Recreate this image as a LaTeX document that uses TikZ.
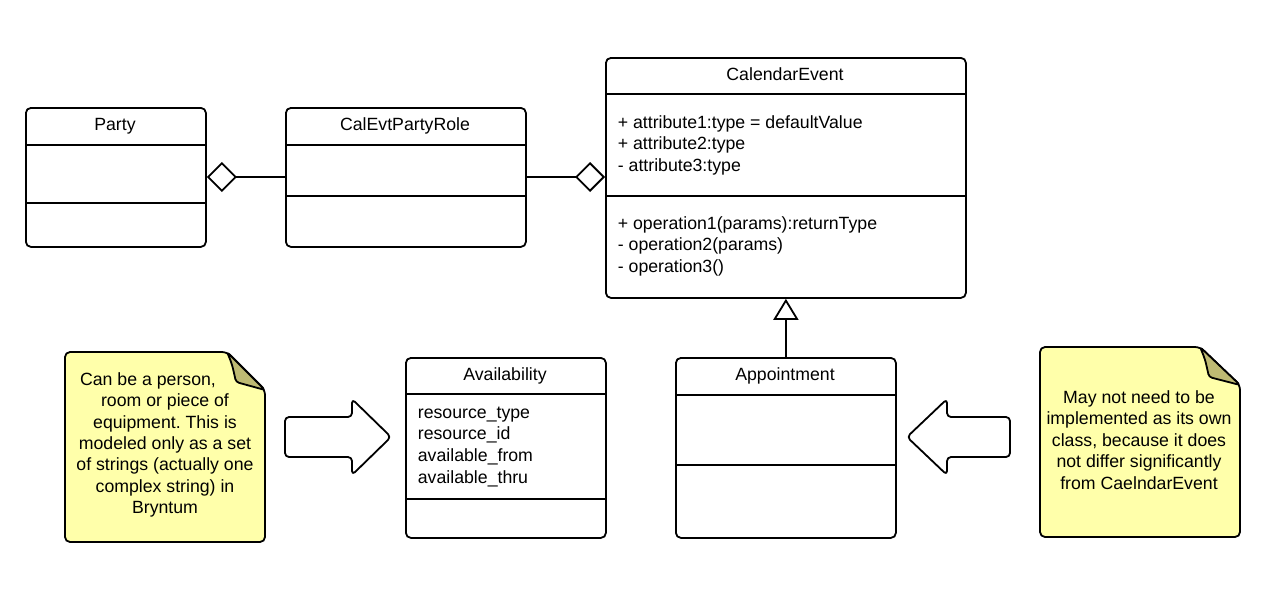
\documentclass[tikz,border=0pt]{standalone}
\usepackage{fontspec}
\setmainfont{Liberation Sans}
\usetikzlibrary{arrows.meta}
\definecolor{noteyellow}{RGB}{255,255,170}
\definecolor{notefold}{RGB}{190,186,115}
\frenchspacing
\begin{document}
\begin{tikzpicture}[x=1pt,y=-1pt,line width=1.8pt,line join=round,
  font=\fontsize{17.7}{21.4}\selectfont,
  umlbox/.style={draw,rounded corners=5pt,anchor=north west,inner sep=0pt,fill=white},
  hdr/.style={anchor=base,inner sep=0pt},
  attr/.style={anchor=base west,inner sep=0pt},
  notetext/.style={align=center,inner sep=0pt},
  noteshape/.style={draw,fill=noteyellow,rounded corners=5pt},
  foldshape/.style={draw,fill=notefold,rounded corners=3pt},
  blockarrow/.style={draw,fill=white,rounded corners=4pt},
  agg/.style={-{Diamond[open,length=30pt,width=30pt,line width=1.8pt]}},
  gen/.style={-{Triangle[open,length=21pt,width=25pt,line width=1.8pt]}}]
\useasboundingbox (0,0) rectangle (1265,600);

% Party
\node[umlbox,minimum width=180pt,minimum height=139pt] (party) at (25,107) {};
\node[hdr] (partyT) at (115,130) {Party};
\draw (party.west |- 0,145) -- (party.east |- 0,145);
\draw (party.west |- 0,203) -- (party.east |- 0,203);

% CalEvtPartyRole
\node[umlbox,minimum width=240pt,minimum height=139pt] (role) at (285,107) {};
\node[hdr] (roleT) at (405,130) {CalEvtPartyRole};
\draw (role.west |- 0,145) -- (role.east |- 0,145);
\draw (role.west |- 0,196) -- (role.east |- 0,196);

% CalendarEvent
\node[umlbox,minimum width=360pt,minimum height=240pt] (cal) at (605,57) {};
\node[hdr] (calT) at (785,80) {CalendarEvent};
\draw (cal.west |- 0,94) -- (cal.east |- 0,94);
\draw (cal.west |- 0,196) -- (cal.east |- 0,196);
\node[attr] (calA1) at (617,128) {+ attribute1:type = defaultValue};
\node[attr] (calA2) at (617,149) {+ attribute2:type};
\node[attr] (calA3) at (617,171) {- attribute3:type};
\node[attr] (calO1) at (617,229) {+ operation1(params):returnType};
\node[attr] (calO2) at (617,250) {- operation2(params)};
\node[attr] (calO3) at (617,272) {- operation3()};

% Availability
\node[umlbox,minimum width=200pt,minimum height=180pt] (avail) at (405,357) {};
\node[hdr] (availT) at (505,380) {Availability};
\draw (avail.west |- 0,394) -- (avail.east |- 0,394);
\draw (avail.west |- 0,499) -- (avail.east |- 0,499);
\node[attr] (avA1) at (417,418) {resource\_type};
\node[attr] (avA2) at (417,439) {resource\_id};
\node[attr] (avA3) at (417,461) {available\_from};
\node[attr] (avA4) at (417,483) {available\_thru};

% Appointment
\node[umlbox,minimum width=220pt,minimum height=180pt] (appt) at (675,357) {};
\node[hdr] (apptT) at (785,380) {Appointment};
\draw (appt.west |- 0,395) -- (appt.east |- 0,395);
\draw (appt.west |- 0,465) -- (appt.east |- 0,465);

% connectors
\draw[agg] (role.west |- 0,177) -- (party.east |- 0,177);
\draw[agg] (role.east |- 0,177) -- (cal.west |- 0,177);
\draw[gen] (appt) -- (cal);

% block arrows
\draw[blockarrow] (285,417) -- (352,417) -- (352,399) -- (391,437) -- (352,475) -- (352,457) -- (285,457) -- cycle;
\draw[blockarrow] (907,437) -- (947,399) -- (947,417) -- (1010,417) -- (1010,457) -- (947,457) -- (947,475) -- cycle;

% note 1
\draw[noteshape] (227,352) -- (65,352) -- (65,542) -- (265,542) -- (265,390) -- cycle;
\draw[foldshape] (227,352) .. controls (232,364) .. (236,382) -- (265,390) -- cycle;
\node[notetext] (note1) at (165,445) {Can be a person,\hspace*{34pt}\\room or piece of\hspace*{13pt}\\equipment. This is\\modeled only as a set\\of strings (actually one\\complex string) in\\Bryntum};

% note 2
\draw[noteshape] (1200,347) -- (1040,347) -- (1040,537) -- (1240,537) -- (1240,385) -- cycle;
\draw[foldshape] (1200,347) .. controls (1205,359) .. (1209,377) -- (1240,385) -- cycle;
\node[notetext] (note2) at (1139,440) {May not need to be\\implemented as its own\\class, because it does\\not differ significantly\\from CaelndarEvent};
\end{tikzpicture}
\end{document}
